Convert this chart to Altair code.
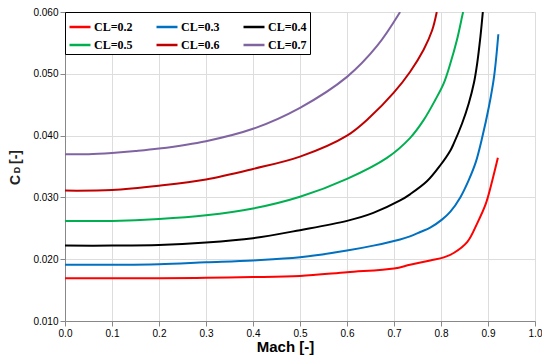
import altair as alt
import pandas as pd

series = ["CL=0.2", "CL=0.3", "CL=0.4", "CL=0.5", "CL=0.6", "CL=0.7"]
colors = ["#FF0000", "#0070C0", "#000000", "#00B050", "#C00000", "#8064A2"]

mach_02 = [0.0, 0.1, 0.2, 0.3, 0.4, 0.5, 0.6, 0.7, 0.734, 0.777, 0.806, 0.827, 0.856, 0.877, 0.895, 0.909, 0.921]
cd_02 = [0.0169, 0.0169, 0.0169, 0.0170, 0.0171, 0.0173, 0.0179, 0.0185, 0.0191, 0.0198, 0.0203, 0.0210, 0.0228, 0.0258, 0.0289, 0.0327, 0.0364]

mach_03 = [0.0, 0.1, 0.2, 0.3, 0.4, 0.5, 0.6, 0.656, 0.713, 0.734, 0.756, 0.777, 0.802, 0.820, 0.841, 0.859, 0.874, 0.888, 0.902, 0.913, 0.922]
cd_03 = [0.0191, 0.0191, 0.0192, 0.0195, 0.0198, 0.0203, 0.0214, 0.0222, 0.0232, 0.0237, 0.0244, 0.0251, 0.0264, 0.0277, 0.0300, 0.0328, 0.0357, 0.0398, 0.0447, 0.0496, 0.0564]

mach_04 = [0.0, 0.1, 0.2, 0.3, 0.4, 0.5, 0.6, 0.656, 0.713, 0.734, 0.770, 0.7985, 0.820, 0.827, 0.845, 0.859, 0.870, 0.877, 0.884, 0.889]
cd_04 = [0.0222, 0.0222, 0.0223, 0.0227, 0.0234, 0.0247, 0.0262, 0.0275, 0.0295, 0.0305, 0.0326, 0.0352, 0.0376, 0.0387, 0.0420, 0.0452, 0.0485, 0.0517, 0.0561, 0.0600]

mach_05 = [0.0, 0.1, 0.2, 0.3, 0.4, 0.5, 0.6, 0.685, 0.734, 0.763, 0.788, 0.806, 0.820, 0.834, 0.845, 0.847]
cd_05 = [0.0262, 0.0262, 0.0265, 0.0271, 0.0282, 0.0301, 0.0330, 0.0364, 0.0396, 0.0425, 0.0458, 0.0485, 0.0517, 0.0555, 0.0593, 0.0600]

mach_06 = [0.0, 0.1, 0.2, 0.3, 0.4, 0.5, 0.6, 0.649, 0.699, 0.734, 0.763, 0.781, 0.791]
cd_06 = [0.0311, 0.0312, 0.0319, 0.0329, 0.0346, 0.0366, 0.0400, 0.0430, 0.0469, 0.0503, 0.0539, 0.0570, 0.0600]

mach_07 = [0.0, 0.05, 0.1, 0.15, 0.2, 0.3, 0.4, 0.5, 0.6, 0.664, 0.713]
cd_07 = [0.0370, 0.0370, 0.0372, 0.0375, 0.0379, 0.0391, 0.0411, 0.0445, 0.0495, 0.0545, 0.0600]

x_ticks = [0.0, 0.1, 0.2, 0.3, 0.4, 0.5, 0.6, 0.7, 0.8, 0.9, 1.0]
y_ticks = [0.010, 0.020, 0.030, 0.040, 0.050, 0.060]

all_mach = [mach_02, mach_03, mach_04, mach_05, mach_06, mach_07]
all_cd = [cd_02, cd_03, cd_04, cd_05, cd_06, cd_07]

rows = []
for name, ms, cs in zip(series, all_mach, all_cd):
    for i, (m, c) in enumerate(zip(ms, cs)):
        rows.append({"series": name, "mach": m, "cd": c, "order": i})
df = pd.DataFrame(rows)

lines = alt.Chart(df).mark_line(strokeWidth=2, clip=True, interpolate="catmull-rom").encode(
    x=alt.X("mach:Q",
            scale=alt.Scale(domain=[0, 1], nice=False),
            axis=alt.Axis(values=x_ticks, format=".1f", title="Mach [-]",
                          labelFlush=False, titleX=220, titleY=30,
                          titleBaseline="alphabetic", titleFontSize=15)),
    y=alt.Y("cd:Q",
            scale=alt.Scale(domain=[0.01, 0.06], nice=False),
            axis=alt.Axis(values=y_ticks, format=".3f", title=None, labelFlush=False)),
    color=alt.Color("series:N",
                    scale=alt.Scale(domain=series, range=colors),
                    legend=alt.Legend(title=None, orient="none", legendX=0, legendY=0,
                                      direction="horizontal", columns=3,
                                      symbolType="stroke", symbolStrokeWidth=2.5,
                                      symbolSize=441, labelFont="Liberation Serif",
                                      labelFontWeight="bold", labelFontSize=12,
                                      labelColor="black", padding=3, rowPadding=0,
                                      columnPadding=18, strokeColor="black",
                                      fillColor="white", labelOffset=2,
                                      cornerRadius=0)),
    order="order:Q",
)

def title_part(txt, x, y, size):
    return alt.Chart(pd.DataFrame({"t": [txt]})).mark_text(
        angle=270, font="Liberation Sans", fontWeight="bold", fontSize=size,
        color="#222222", align="center", baseline="alphabetic"
    ).encode(x=alt.value(x), y=alt.value(y), text="t:N")

yt_c = title_part("C", -45, 168, 14)
yt_d = title_part("D", -45, 158, 9)
yt_b = title_part("[-]", -45, 145, 14)

chart = alt.layer(lines, yt_c, yt_d, yt_b).properties(
    width=470, height=309,
    autosize=alt.AutoSizeParams(type="none"),
    padding={"left": 57, "top": 4, "right": 7, "bottom": 34},
).configure_view(
    stroke="black", strokeWidth=2
).configure_axis(
    grid=True, gridColor="#d9d9d9", gridWidth=1, domain=False, ticks=False,
    labelFont="Liberation Sans", labelFontWeight="bold", labelFontSize=11,
    labelColor="#222222", titleFont="Liberation Sans", titleFontWeight="bold",
    titleFontSize=15, titleColor="#222222"
).configure_axisX(
    labelPadding=6
).configure_axisY(
    labelPadding=9
).configure(background="white")

chart.save("out.html", embed_options={"renderer": "svg", "actions": False})
